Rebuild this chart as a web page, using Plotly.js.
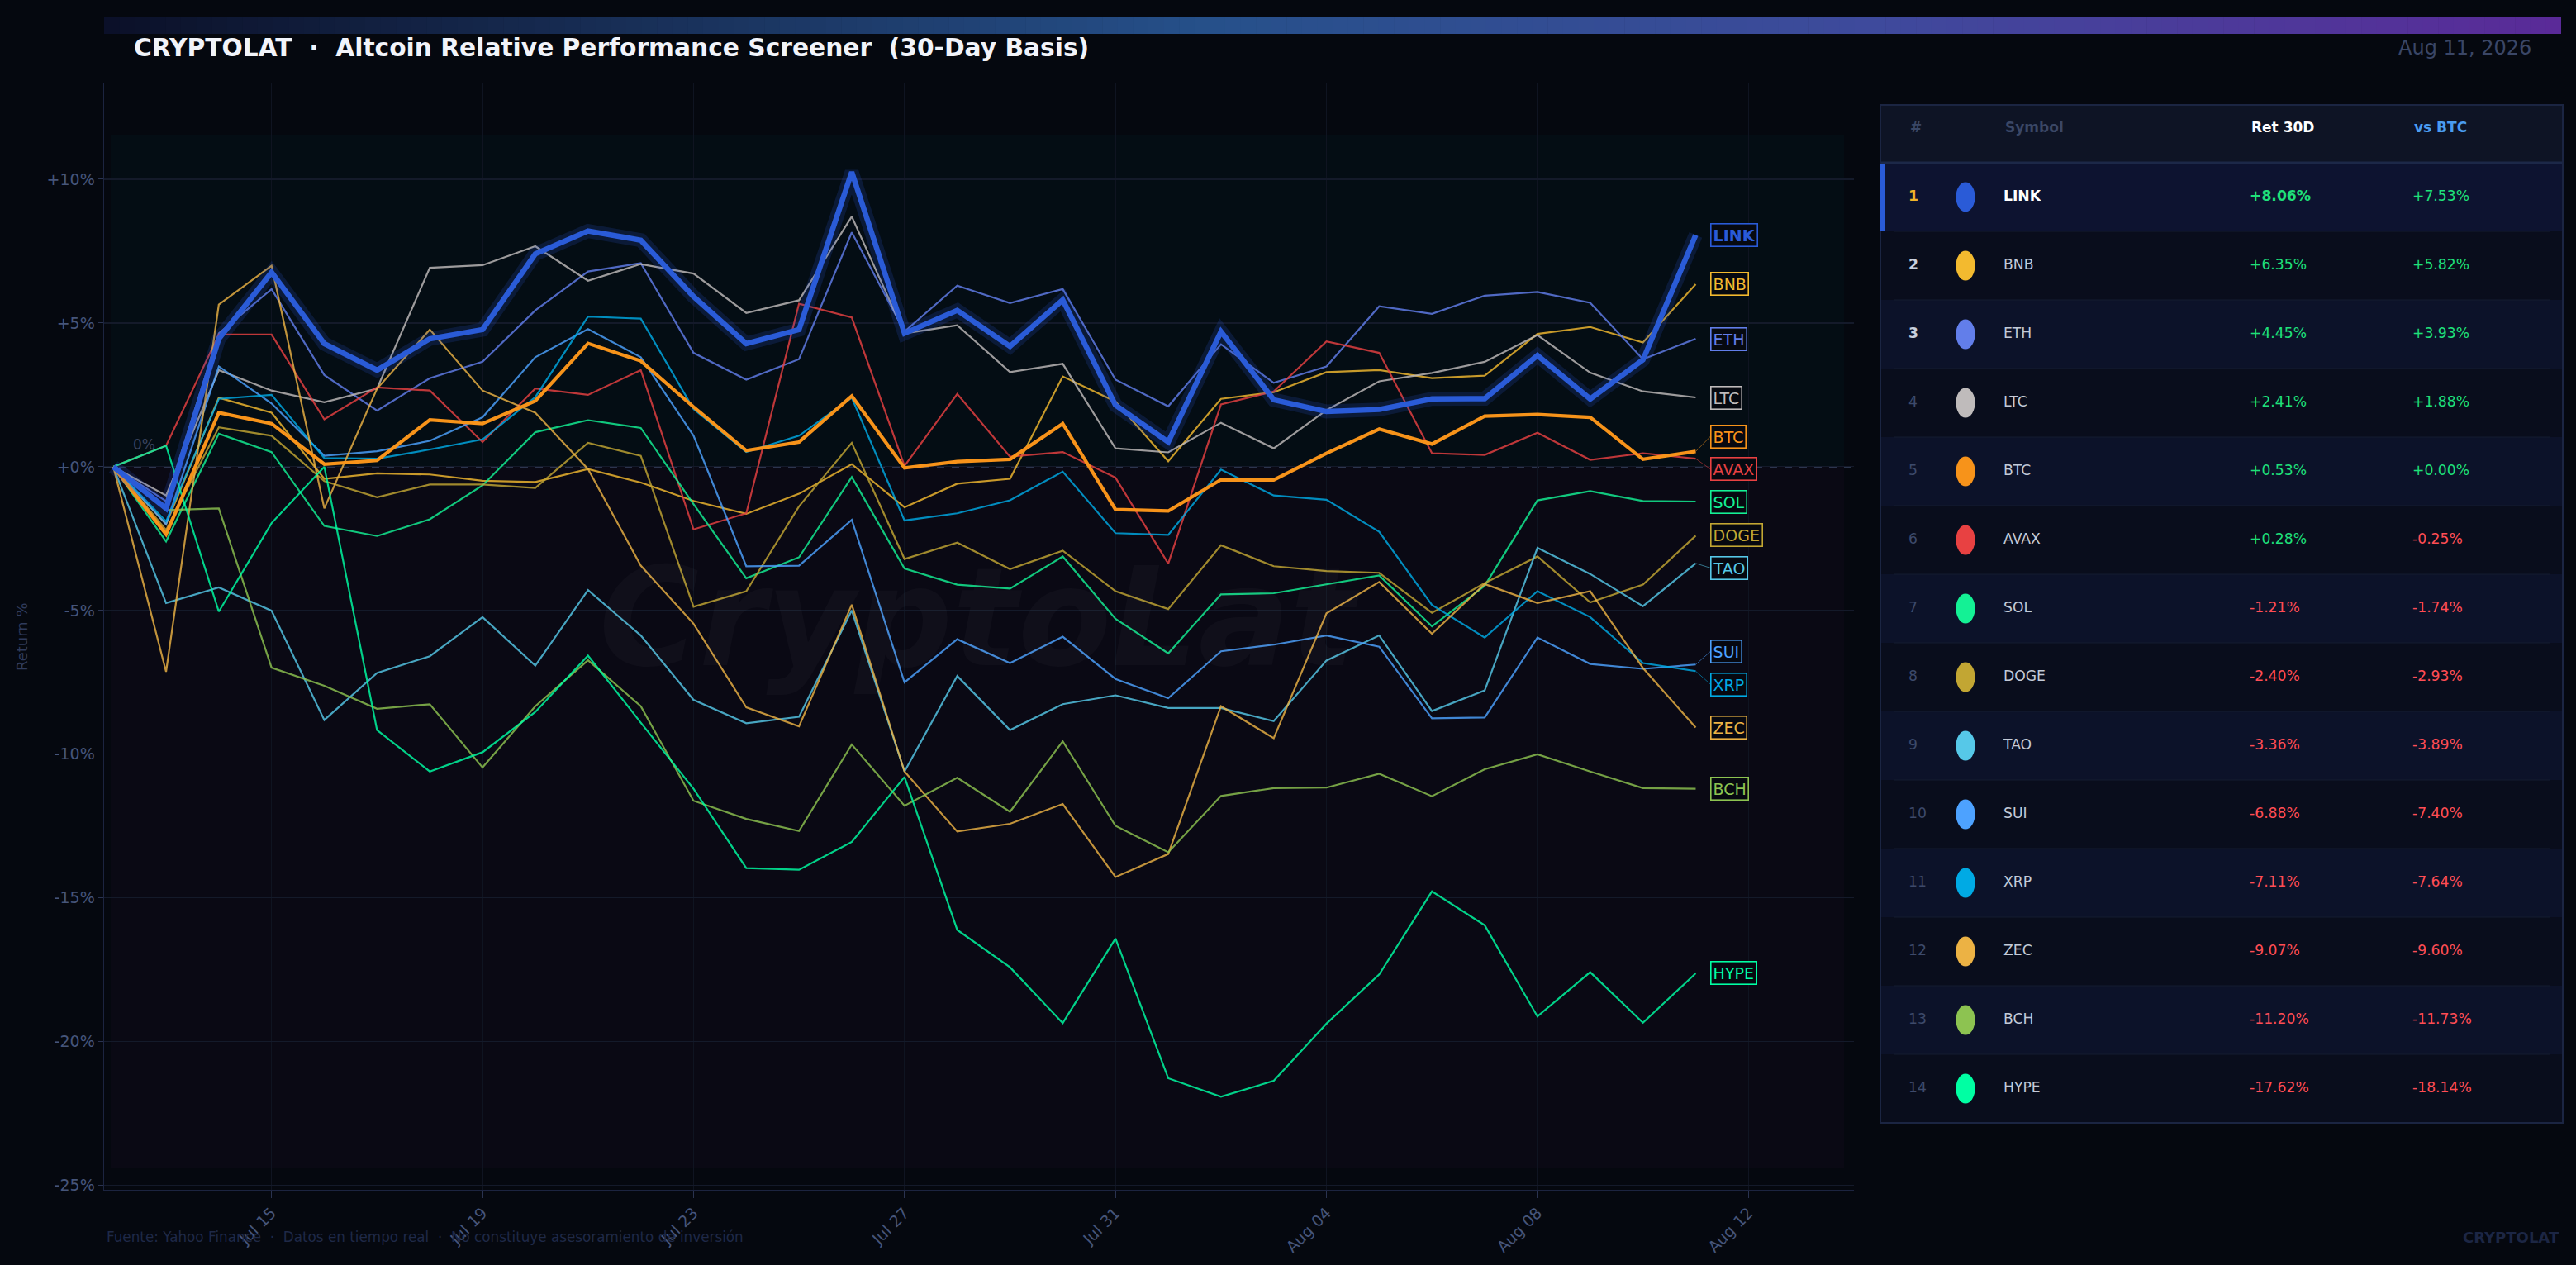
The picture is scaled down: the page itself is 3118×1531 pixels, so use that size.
<!DOCTYPE html>
<html><head><meta charset="utf-8">
<script src="https://cdn.plot.ly/plotly-3.0.1.min.js"></script>
<style>html,body{margin:0;padding:0;background:#05080f;overflow:hidden}#chart{width:3118px;height:1531px}</style>
</head><body><div id="chart"></div>
<script>
// ---------------- DATA ----------------
const dates = ['2026-07-12','2026-07-13','2026-07-14','2026-07-15','2026-07-16','2026-07-17','2026-07-18','2026-07-19',
  '2026-07-20','2026-07-21','2026-07-22','2026-07-23','2026-07-24','2026-07-25','2026-07-26','2026-07-27','2026-07-28',
  '2026-07-29','2026-07-30','2026-07-31','2026-08-01','2026-08-02','2026-08-03','2026-08-04','2026-08-05','2026-08-06',
  '2026-08-07','2026-08-08','2026-08-09','2026-08-10','2026-08-11'];
const symbols = ['LINK','BNB','ETH','LTC','BTC','AVAX','SOL','DOGE','TAO','SUI','XRP','ZEC','BCH','HYPE'];
const colors  = ['#2A5BD7','#F3BA2F','#627EEA','#BFBBBB','#F7931A','#E84142','#14F195','#C2A633','#56C8E8','#4DA2FF','#00AAE4','#ECB244','#8DC351','#00FFA3'];

const LINK = [0,-1.45,4.45,6.76,4.28,3.36,4.45,4.77,7.40,8.20,7.88,5.92,4.28,4.77,10.25,4.64,5.44,4.19,5.80,2.14,0.86,4.70,2.33,1.92,1.99,2.36,2.37,3.87,2.36,3.72,8.06];
const BNB  = [0,-2.00,2.40,1.88,-0.42,-0.23,-0.27,-0.49,-0.53,-0.08,-0.55,-1.19,-1.64,-0.94,0.09,-1.41,-0.59,-0.42,3.14,2.27,0.19,2.36,2.59,3.29,3.36,3.08,3.17,4.62,4.86,4.32,6.35];
const ETH  = [0,-1.20,4.64,6.18,3.19,1.95,3.08,3.65,5.44,6.79,7.08,3.96,3.03,3.74,8.15,4.70,6.30,5.69,6.18,3.03,2.10,4.26,2.92,3.49,5.58,5.32,5.95,6.08,5.70,3.74,4.45];
const LTC  = [0,-1.00,3.36,2.65,2.24,2.72,6.92,7.01,7.67,6.47,7.05,6.72,5.35,5.79,8.70,4.64,4.92,3.29,3.58,0.64,0.50,1.53,0.64,1.97,2.97,3.26,3.65,4.58,3.27,2.62,2.41];
const BTC  = [0,-2.35,1.88,1.50,0.09,0.22,1.63,1.50,2.29,4.29,3.68,2.08,0.56,0.86,2.46,-0.04,0.18,0.26,1.50,-1.49,-1.54,-0.45,-0.46,0.47,1.31,0.79,1.76,1.82,1.72,0.26,0.53];
const AVAX = [0,0.73,4.60,4.60,1.65,2.76,2.65,0.86,2.72,2.50,3.36,-2.18,-1.62,5.67,5.19,0.03,2.53,0.35,0.51,-0.38,-3.37,2.17,2.62,4.36,3.96,0.47,0.41,1.18,0.24,0.47,0.28];
const SOL  = [0,-2.60,1.15,0.51,-2.06,-2.41,-1.83,-0.65,1.20,1.62,1.35,-1.30,-3.88,-3.15,-0.36,-3.54,-4.10,-4.24,-3.12,-5.29,-6.49,-4.44,-4.40,-4.08,-3.78,-5.55,-4.14,-1.17,-0.85,-1.19,-1.21];
const DOGE = [0,-2.20,1.37,1.08,-0.50,-1.06,-0.62,-0.62,-0.74,0.83,0.38,-4.87,-4.33,-1.38,0.83,-3.21,-2.64,-3.56,-2.92,-4.33,-4.95,-2.73,-3.46,-3.63,-3.69,-5.08,-4.05,-3.12,-4.72,-4.10,-2.40];
const TAO  = [0,-4.74,-4.20,-5.01,-8.81,-7.17,-6.59,-5.23,-6.92,-4.29,-5.87,-8.11,-8.92,-8.70,-5.00,-10.60,-7.28,-9.16,-8.26,-7.95,-8.39,-8.39,-8.85,-6.74,-5.87,-8.50,-7.78,-2.82,-3.73,-4.85,-3.36];
const SUI  = [0,-2.00,3.49,2.20,0.38,0.54,0.90,1.72,3.81,4.79,3.81,1.08,-3.46,-3.44,-1.85,-7.50,-6.00,-6.83,-5.91,-7.38,-8.05,-6.42,-6.19,-5.87,-6.26,-8.75,-8.72,-5.94,-6.86,-7.03,-6.88];
const XRP  = [0,-1.90,2.36,2.50,0.30,0.28,0.60,0.95,2.42,5.22,5.15,2.01,0.51,1.08,2.40,-1.87,-1.62,-1.17,-0.17,-2.31,-2.37,-0.10,-1.00,-1.15,-2.26,-4.81,-5.94,-4.33,-5.23,-6.83,-7.11];
const ZEC  = [0,-7.13,5.64,6.99,-1.45,2.72,4.77,2.65,1.88,-0.08,-3.44,-5.46,-8.37,-9.03,-4.80,-10.60,-12.69,-12.42,-11.73,-14.27,-13.47,-8.33,-9.44,-5.10,-4.01,-5.81,-4.08,-4.74,-4.33,-7.00,-9.07];
const BCH  = [0,-1.51,-1.45,-6.99,-7.62,-8.42,-8.26,-10.46,-8.33,-6.73,-8.33,-11.62,-12.25,-12.67,-9.66,-11.79,-10.82,-12.00,-9.55,-12.49,-13.41,-11.45,-11.18,-11.16,-10.68,-11.46,-10.52,-10.00,-10.60,-11.18,-11.20];
const HYPE = [0,0.73,-5.04,-1.96,0.00,-9.16,-10.60,-9.93,-8.53,-6.57,-8.90,-11.20,-13.96,-14.02,-13.05,-10.79,-16.11,-17.41,-19.35,-16.41,-21.27,-21.91,-21.36,-19.37,-17.66,-14.77,-15.95,-19.12,-17.58,-19.34,-17.62];

const ret30d = [8.06,6.35,4.45,2.41,0.53,0.28,-1.21,-2.40,-3.36,-6.88,-7.11,-9.07,-11.20,-17.62];
const vsBTC  = [7.53,5.82,3.93,1.88,0.00,-0.25,-1.74,-2.93,-3.89,-7.40,-7.64,-9.60,-11.73,-18.14];
const yTickVals = [-25,-20,-15,-10,-5,0,5,10];
const tableHeader = ['#','Symbol','Ret 30D','vs BTC'];
const headerColors = ['#3a4766','#3a4766','#ffffff','#4a9cf0'];

const seriesList = [LINK,BNB,ETH,LTC,BTC,AVAX,SOL,DOGE,TAO,SUI,XRP,ZEC,BCH,HYPE];

// ---------------- LAYOUT HELPERS ----------------
const W = 3118, H = 1531;
const PX = X => X / W, PY = Y => 1 - Y / H;
const L = 126, R = 2244, T = 100, B = 1440;
const FONT = 'DejaVu Sans, Verdana, sans-serif';

function hexToRgb(h){h=h.replace('#','');return [parseInt(h.slice(0,2),16),parseInt(h.slice(2,4),16),parseInt(h.slice(4,6),16)];}
function rgba(h,a){const c=hexToRgb(h);return `rgba(${c[0]},${c[1]},${c[2]},${a})`;}
function fmtPct(v){return (v>=0?'+':'') + v.toFixed(2) + '%';}
const NB = '\u00a0<br>';

// ---------------- TRACES ----------------
const traces = [];
const order = symbols.map((s,i)=>i).filter(i=>symbols[i]!=='LINK' && symbols[i]!=='BTC');
order.forEach(i=>{
  traces.push({type:'scatter',mode:'lines',x:dates,y:seriesList[i],name:symbols[i],
    line:{color:colors[i],width:2.2},opacity:0.82,hoverinfo:'skip'});
});
const iBTC = symbols.indexOf('BTC'), iLINK = symbols.indexOf('LINK');
traces.push({type:'scatter',mode:'lines',x:dates,y:seriesList[iBTC],name:'BTC',line:{color:colors[iBTC],width:4.2},hoverinfo:'skip'});
traces.push({type:'scatter',mode:'lines',x:dates,y:seriesList[iLINK],name:'LINK glow',line:{color:rgba(colors[iLINK],0.18),width:17},hoverinfo:'skip'});
traces.push({type:'scatter',mode:'lines',x:dates,y:seriesList[iLINK],name:'LINK',line:{color:colors[iLINK],width:6.5},hoverinfo:'skip'});

// ---------------- TABLE ----------------
const rankOrder = ret30d.map((v,i)=>i).sort((a,b)=>ret30d[b]-ret30d[a]);
const TBL_L = 2276, TBL_R = 3102, TBL_T = 127, HDR_H = 70, ROW_H = 83;
const colWidths = [26,115,298,197,190];
const nRows = rankOrder.length;
const rowFill = rankOrder.map((_,r)=> r===0 ? '#0d1330' : (r%2===0 ? '#0c1229' : '#090d1c'));
const colBlank = rankOrder.map(()=> '');
const colRank = rankOrder.map((_,r)=> r<3 ? `${NB}<b>${r+1}</b>` : `${NB}${r+1}`);
const colSym  = rankOrder.map((i,r)=> r===0 ? `${NB}<b>${symbols[i]}</b>` : `${NB}${symbols[i]}`);
const colRet  = rankOrder.map((i,r)=> r===0 ? `${NB}<b>${fmtPct(ret30d[i])}</b>` : `${NB}${fmtPct(ret30d[i])}`);
const colVs   = rankOrder.map(i=> `${NB}${fmtPct(vsBTC[i])}`);
const rankCol = rankOrder.map((_,r)=> r===0 ? '#f0b429' : (r<3 ? '#c9d0de' : '#3d4a6b'));
const symCol  = rankOrder.map((_,r)=> r===0 ? '#ffffff' : '#c3cad8');
const retCol  = rankOrder.map(i=> ret30d[i]>=0 ? '#1fe07a' : '#ff4d55');
const vsCol   = rankOrder.map(i=> vsBTC[i]>=0 ? '#1fe07a' : '#ff4d55');

traces.push({
  type:'table',
  domain:{x:[PX(TBL_L),PX(TBL_R)], y:[PY(TBL_T+HDR_H+ROW_H*nRows+6), PY(TBL_T)]},
  columnwidth:colWidths,
  header:{
    values:['','','','',''],
    height:HDR_H, align:'left',
    fill:{color:'#0e1425'}, line:{width:0},
    font:{family:FONT,size:17,color:'#3a4766'}
  },
  cells:{
    values:[colBlank,colRank,colSym,colRet,colVs],
    height:ROW_H, align:'left',
    fill:{color:[rowFill,rowFill,rowFill,rowFill,rowFill]}, line:{width:0},
    font:{family:FONT,size:17.2,color:[rankCol,rankCol,symCol,retCol,vsCol]}
  }
});

// ---------------- SHAPES ----------------
const shapes = [];
shapes.push({type:'rect',layer:'below',xref:'paper',yref:'y',x0:PX(134),x1:PX(2232),y0:0,y1:11.55,
  fillcolor:'rgba(0,190,190,0.03)',line:{width:0}});
shapes.push({type:'rect',layer:'below',xref:'paper',yref:'y',x0:PX(134),x1:PX(2232),y0:-24.4,y1:0,
  fillcolor:'rgba(200,60,200,0.03)',line:{width:0}});
shapes.push({type:'line',layer:'below',xref:'paper',yref:'y',x0:PX(L),x1:PX(R),y0:0,y1:0,
  line:{color:'#394462',width:1.6,dash:'dash'}});
const gStops = [[0,'#0b1028'],[0.45,'#26508a'],[0.72,'#3e4a9c'],[1,'#5a2a98']];
function gradAt(t){
  for(let k=0;k<gStops.length-1;k++){
    const [t0,c0]=gStops[k],[t1,c1]=gStops[k+1];
    if(t<=t1){const f=(t-t0)/(t1-t0);const a=hexToRgb(c0),b=hexToRgb(c1);
      return `rgb(${Math.round(a[0]+(b[0]-a[0])*f)},${Math.round(a[1]+(b[1]-a[1])*f)},${Math.round(a[2]+(b[2]-a[2])*f)})`;}
  }
  return gStops[gStops.length-1][1];
}
const GB_L=126, GB_R=3100, GB_T=20, GB_B=41, NSEG=160;
for(let k=0;k<NSEG;k++){
  const xa = GB_L + (GB_R-GB_L)*k/NSEG, xb = GB_L + (GB_R-GB_L)*(k+1)/NSEG + 0.6;
  shapes.push({type:'rect',xref:'paper',yref:'paper',x0:PX(xa),x1:PX(Math.min(xb,GB_R)),y0:PY(GB_B),y1:PY(GB_T),
    fillcolor:gradAt((k+0.5)/NSEG),line:{width:0},layer:'above'});
}
const tblBottom = TBL_T + HDR_H + ROW_H*nRows;
for(let r=1;r<nRows;r++){
  const y = TBL_T + HDR_H + ROW_H*r;
  shapes.push({type:'line',xref:'paper',yref:'paper',x0:PX(2292),x1:PX(3087),y0:PY(y),y1:PY(y),line:{color:'#151c31',width:1.2}});
}
shapes.push({type:'line',xref:'paper',yref:'paper',x0:PX(TBL_L),x1:PX(TBL_R),y0:PY(TBL_T+HDR_H),y1:PY(TBL_T+HDR_H),line:{color:'#1c2848',width:3}});
shapes.push({type:'rect',xref:'paper',yref:'paper',x0:PX(TBL_L),x1:PX(TBL_R),y0:PY(tblBottom),y1:PY(TBL_T),line:{color:'#1b2542',width:2},fillcolor:'rgba(0,0,0,0)'});
shapes.push({type:'rect',xref:'paper',yref:'paper',x0:PX(TBL_L),x1:PX(TBL_L+6),y0:PY(TBL_T+HDR_H+ROW_H),y1:PY(TBL_T+HDR_H+2),fillcolor:colors[iLINK],line:{width:0}});
rankOrder.forEach((i,r)=>{
  const cy = TBL_T + HDR_H + ROW_H*r + ROW_H/2, cx = 2379;
  shapes.push({type:'circle',xref:'paper',yref:'paper',x0:PX(cx-11.5),x1:PX(cx+11.5),y0:PY(cy+18),y1:PY(cy-18),
    fillcolor:colors[i],line:{width:0}});
});

// ---------------- ANNOTATIONS ----------------
const ann = [];
let colStart = TBL_L + colWidths[0];
tableHeader.forEach((t,k)=>{
  ann.push({text:`<b>${t}</b>`,xref:'paper',yref:'paper',x:PX(colStart+8),y:PY(TBL_T+HDR_H/2-8),xanchor:'left',yanchor:'middle',
    showarrow:false,font:{family:FONT,size:17,color:headerColors[k]}});
  colStart += colWidths[k+1];
});
const GAP = 1.145;
function spreadLabels(vals){
  let clusters = vals.map((v,i)=>({m:[i],c:v})).sort((a,b)=>b.c-a.c);
  let changed = true;
  while(changed){
    changed=false;
    for(let k=0;k<clusters.length-1;k++){
      const a=clusters[k], b=clusters[k+1];
      const aBot = a.c - (a.m.length-1)*GAP/2, bTop = b.c + (b.m.length-1)*GAP/2;
      if(aBot - bTop < GAP){
        const m=a.m.concat(b.m); const c=m.reduce((s,j)=>s+vals[j],0)/m.length;
        clusters.splice(k,2,{m,c}); changed=true; break;
      }
    }
  }
  const pos = new Array(vals.length);
  clusters.forEach(cl=>{
    const ms = cl.m.slice().sort((a,b)=>vals[b]-vals[a]);
    ms.forEach((j,q)=>{pos[j]= cl.c + ((ms.length-1)/2 - q)*GAP;});
  });
  return pos;
}
const lastVals = seriesList.map(s=>s[s.length-1]);
const labelY = spreadLabels(lastVals);
const lastDate = dates[dates.length-1];
symbols.forEach((s,i)=>{
  const shifted = Math.abs(labelY[i]-lastVals[i])>0.12;
  const base = {
    text: s==='LINK' ? `<b>${s}</b>` : s,
    font:{family:FONT,size:19,color:colors[i]},
    bgcolor:'rgba(6,9,16,0.92)',bordercolor:colors[i],borderwidth:1.6,borderpad:2,
    xanchor:'left',yanchor:'middle',xref:'x',yref:'y',x:lastDate
  };
  if(shifted){
    ann.push(Object.assign(base,{y:lastVals[i],showarrow:true,axref:'pixel',ayref:'y',ax:18,ay:labelY[i],
      arrowhead:0,arrowwidth:1,arrowcolor:rgba(colors[i],0.55),standoff:0,startstandoff:0}));
  } else {
    ann.push(Object.assign(base,{y:labelY[i],showarrow:false,xshift:18}));
  }
});
ann.push({text:'0%',xref:'x',yref:'y',x:dates[0],y:0,xanchor:'left',yanchor:'middle',xshift:22,yshift:27,showarrow:false,
  font:{family:FONT,size:17,color:'#3a4560'}});
ann.push({text:'Return %',xref:'paper',yref:'paper',x:PX(26),y:PY((T+B)/2),textangle:-90,showarrow:false,xanchor:'center',yanchor:'middle',
  font:{family:FONT,size:18,color:'#2f3b5c'}});
ann.push({text:'<b><i>CryptoLat</i></b>',xref:'paper',yref:'paper',x:PX(1185),y:PY(748),showarrow:false,xanchor:'center',yanchor:'middle',
  font:{family:FONT,size:165,color:'rgba(255,255,255,0.028)'}});
const MONTHS=['Jan','Feb','Mar','Apr','May','Jun','Jul','Aug','Sep','Oct','Nov','Dec'];
const ld = lastDate.split('-');
ann.push({text:`${MONTHS[parseInt(ld[1],10)-1]} ${parseInt(ld[2],10)}, ${ld[0]}`,xref:'paper',yref:'paper',x:PX(3066),y:PY(58),
  xanchor:'right',yanchor:'middle',showarrow:false,font:{family:FONT,size:24,color:'#3a4666'}});
ann.push({text:'Fuente: Yahoo Finance\u00a0 ·\u00a0 Datos en tiempo real\u00a0 ·\u00a0 No constituye asesoramiento de inversión',
  xref:'paper',yref:'paper',x:PX(127),y:PY(1497),xanchor:'left',yanchor:'middle',showarrow:false,font:{family:FONT,size:16.8,color:'#1f2947'}});
ann.push({text:'<b>CRYPTOLAT</b>',xref:'paper',yref:'paper',x:PX(3100),y:PY(1497),xanchor:'right',yanchor:'middle',showarrow:false,
  font:{family:FONT,size:18,color:'#1c2644'}});

// ---------------- LAYOUT ----------------
const layout = {
  width:W,height:H,
  paper_bgcolor:'#05080f',plot_bgcolor:'#05080f',
  margin:{l:0,r:0,t:0,b:0,pad:0},
  showlegend:false,
  title:{text:'<b>CRYPTOLAT\u00a0 ·\u00a0 Altcoin Relative Performance Screener\u00a0 (30-Day Basis)</b>',
    x:PX(162),xanchor:'left',y:PY(58),yanchor:'middle',xref:'paper',yref:'paper',
    font:{family:FONT,size:29.7,color:'#f2f4fa'}},
  xaxis:{domain:[PX(L),PX(R)],type:'date',range:['2026-07-11 19:48','2026-08-14 00:00'],
    tick0:'2026-07-15',dtick:4*86400000,tickformat:'%b %d',tickangle:-45,
    ticks:'outside',ticklen:8,tickcolor:'#2a3350',tickwidth:1,
    tickfont:{family:FONT,size:19,color:'#46557a'},
    showgrid:true,gridcolor:'#0f1421',gridwidth:1,
    showline:true,linecolor:'#1c2440',linewidth:1.5,zeroline:false,automargin:false,fixedrange:true},
  yaxis:{domain:[PY(B),PY(T)],range:[-25.15,13.36],
    tickmode:'array',tickvals:yTickVals,ticktext:yTickVals.map(v=>(v>=0?'+':'')+v+'%'),
    ticks:'outside',ticklen:6,tickcolor:'#2a3350',
    tickfont:{family:FONT,size:19,color:'#46557a'},
    showgrid:true,gridcolor:'#141a2a',gridwidth:1.2,
    showline:true,linecolor:'#1c2440',linewidth:1.5,zeroline:false,automargin:false,fixedrange:true},
  shapes:shapes,
  annotations:ann
};

Plotly.newPlot('chart',traces,layout,{staticPlot:true,displayModeBar:false,responsive:false});
</script></body></html>
